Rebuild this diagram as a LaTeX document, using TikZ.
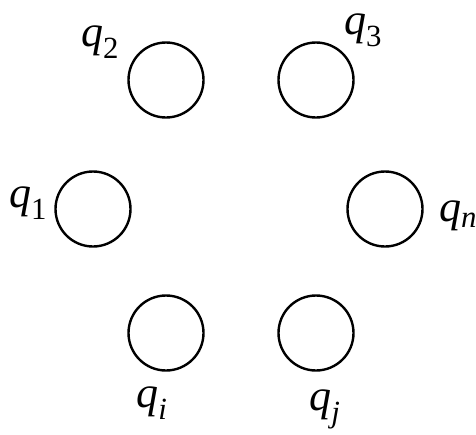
\documentclass[tikz,border=0pt]{standalone}
\usepackage{fontspec}
\setmainfont{Liberation Serif}
\newcommand\qlab[1]{\textit{q}\textsubscript{#1}}

\begin{document}
\begin{tikzpicture}[x=1pt,y=-1pt,
    charge/.style={draw,circle,line width=2.4pt,minimum size=75pt,inner sep=0pt},
    lab/.style={inner sep=0pt,font=\fontsize{44}{50}\selectfont}]
    \useasboundingbox (0,0) rectangle (476,434);
    % charges
    \node[charge] (c2) at (166,80) {};
    \node[charge] (c3) at (316,80) {};
    \node[charge] (c1) at (93,209) {};
    \node[charge] (cn) at (385,209) {};
    \node[charge] (ci) at (166,333) {};
    \node[charge] (cj) at (316,333) {};
    % labels
    \node[lab] (l2) at (100,42) {\qlab{2}};
    \node[lab] (l3) at (363,30) {\qlab{3}};
    \node[lab] (l1) at (28,203) {\qlab{1}};
    \node[lab] (ln) at (458,216) {\qlab{\textit{n}}};
    \node[lab] (li) at (152,403) {\qlab{\textit{i}}};
    \node[lab] (lj) at (325,409) {\qlab{\textit{j}}};
\end{tikzpicture}
\end{document}
